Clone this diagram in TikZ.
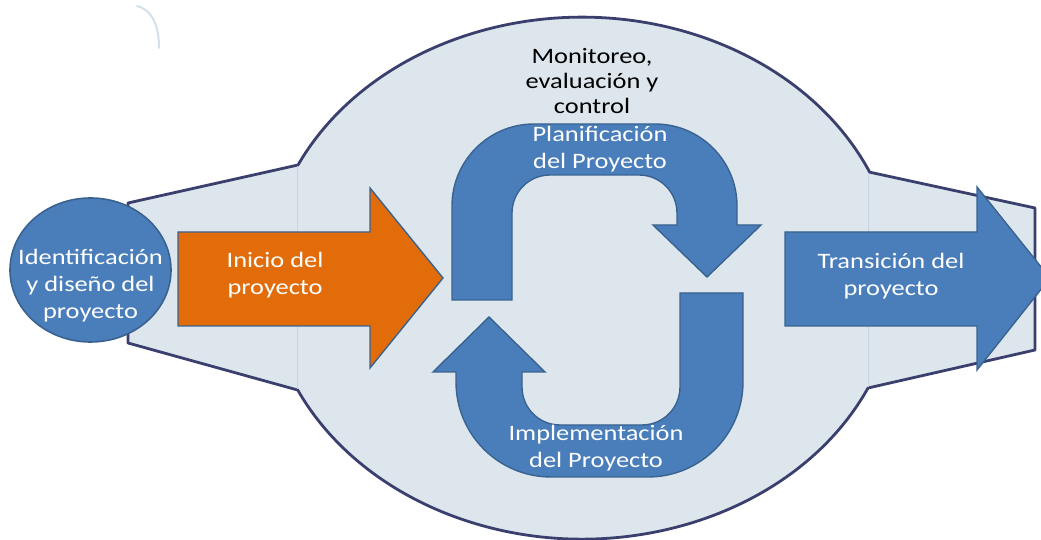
\documentclass[tikz,border=0pt]{standalone}
\usepackage{fontspec}
\setmainfont[FakeStretch=1.2]{Carlito}
\definecolor{bgfill}{HTML}{DCE6EC}
\definecolor{outline}{HTML}{3B3F6E}
\definecolor{oblue}{HTML}{4A7EBB}
\definecolor{oblueline}{HTML}{3A6290}
\definecolor{oorange}{HTML}{E36C0A}
\definecolor{faint}{HTML}{C6D4DD}
\definecolor{faintarc}{HTML}{D3E1E8}
\begin{document}
\begin{tikzpicture}[x=1pt,y=1pt,
  bluearrow/.style={fill=oblue,draw=oblueline,line width=1.4pt,line join=miter},
  orangearrow/.style={fill=oorange,draw=oblueline,line width=1.4pt,line join=miter},
  wtext/.style={text=white,align=center,inner sep=0pt,font=\fontsize{22}{26.5}\selectfont},
  btext/.style={text=black,align=center,inner sep=0pt,font=\fontsize{22}{25}\selectfont}]
\useasboundingbox (0,0) rectangle (1041,540);
\clip (0,0) rectangle (1041,540);
\fill[white] (0,0) rectangle (1041,540);
% faint arc top-left
\draw[faintarc,line width=2pt,line cap=round] (137,534) .. controls (152,530) and (159,515) .. (159,492);
% big background shape
\draw[fill=bgfill,draw=outline,line width=2.8pt,line join=round]
  (128,337) -- (298,375)
  arc[start angle=154.3,end angle=23.96,x radius=315,y radius=261]
  -- (1035,332) -- (1035,190) -- (868,152)
  arc[start angle=-24.9,end angle=-154.6,x radius=315,y radius=261]
  -- (128,197) -- cycle;
\draw[faint,line width=1pt] (297,151) -- (297,374);
\draw[faint,line width=1pt] (868,153) -- (868,367);
% identification ellipse
\draw[fill=oblue,draw=oblueline,line width=1.6pt] (90.5,270) ellipse[x radius=80.5,y radius=72];
\node[wtext,font=\fontsize{22}{27}\selectfont] (ident) at (90.5,254) {Identificación\\y diseño del\\proyecto};
% orange arrow
\draw[orangearrow] (178,214) -- (178,308) -- (370,308) -- (370,352) -- (443,262) -- (370,172) -- (370,214) -- cycle;
\node[wtext] (inicio) at (275,265) {Inicio del\\proyecto};
% transition arrow
\draw[bluearrow] (785,214) -- (785,308) -- (977,308) -- (977,353) -- (1050,262) -- (977,170) -- (977,214) -- cycle;
\node[wtext] (trans) at (891,264) {Transición del\\proyecto};
% upper U arrow
\draw[bluearrow] (452,240) -- (452,334)
  arc[start angle=180,end angle=90,radius=82] -- (655,416)
  arc[start angle=90,end angle=0,radius=82] -- (737,315) -- (761,315) -- (707,263)
  -- (653,315) -- (677,315) -- (677,327)
  arc[start angle=0,end angle=90,radius=38] -- (550,365)
  arc[start angle=90,end angle=180,radius=38] -- (512,240) -- cycle;
\node[wtext] (plan) at (600,391) {Planificación\\del Proyecto};
% lower U arrow
\draw[bluearrow] (743,247) -- (743,158)
  arc[start angle=0,end angle=-90,radius=95] -- (551,63)
  arc[start angle=-90,end angle=-180,radius=95] -- (456,168) -- (433,168) -- (489,223)
  -- (545,168) -- (522,168) -- (522,153)
  arc[start angle=180,end angle=270,radius=38] -- (642,115)
  arc[start angle=270,end angle=360,radius=38] -- (680,247) -- cycle;
\node[wtext] (impl) at (596,92) {Implementación\\del Proyecto};
% monitoring text
\node[btext] (monitor) at (592,459) {Monitoreo,\\evaluación y\\control};
\end{tikzpicture}
\end{document}
